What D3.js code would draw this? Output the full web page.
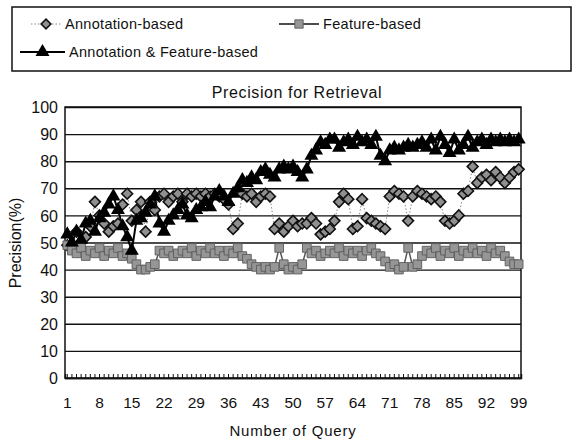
<!DOCTYPE html>
<html><head><meta charset="utf-8">
<script src="https://cdn.jsdelivr.net/npm/d3@7"></script>
<style>
html,body{margin:0;padding:0;background:#fff;}
text{font-family:"Liberation Sans",Arial,Helvetica,sans-serif;fill:#111;}
</style></head>
<body><svg id="c" width="574" height="439"></svg>
<script>
const queries = d3.range(1, 100);
const annotation = [49,48,54,50,52,56,65,60,57,54,56,57,64,68,58,62,65,54,65,62,67,68,65,67,68,65,68,67,68,67,68,67,68,67,66,64,55,57,68,67,68,65,67,68,67,55,57,54,56,58,56,57,57,59,57,53,54,55,58,65,68,66,55,56,66,59,58,57,56,55,67,69,68,67,58,67,69,68,67,66,67,65,58,57,58,60,68,69,78,72,74,75,73,76,74,72,74,76,77];
const feature = [49,47,46,48,45,47,46,48,45,47,46,48,45,46,44,42,40,40,41,42,47,46,47,45,46,47,46,48,45,47,46,48,46,47,45,47,46,48,45,44,42,41,40,41,40,41,48,42,40,41,40,42,48,46,47,45,46,47,46,48,45,47,46,47,45,47,48,46,45,43,41,42,40,41,48,41,42,45,47,46,48,45,47,46,48,45,47,46,48,46,47,45,48,46,47,45,43,42,42];
const combined = [53,50,54,51,57,58,54,59,61,64,67,62,56,52,47,58,59,61,64,67,57,54,58,60,62,64,60,59,62,63,65,63,67,69,67,65,68,70,73,72,74,73,76,77,75,74,77,78,77,78,76,74,77,82,84,87,86,88,88,85,87,88,86,89,87,88,86,89,82,80,84,85,84,85,86,85,86,87,85,88,84,89,86,83,88,84,86,89,85,87,88,86,88,87,88,87,88,87,88];
const yTicks = d3.range(0, 101, 10);
const xLabelEvery = 7;
const seriesNames = ["Annotation-based", "Feature-based", "Annotation & Feature-based"];
const chartTitle = "Precision for Retrieval";
const xTitle = "Number of Query";
const yTitle = "Precision(%)";

const svg = d3.select("#c");
const L = 65, R = 521, T = 107, B = 378;
const x = d3.scaleBand().domain(queries).range([L, R]);
const y = d3.scaleLinear().domain([0, 100]).range([B, T]);
const cx = d => x(d) + x.bandwidth() / 2;

// gridlines
svg.append("g").attr("transform", `translate(${L},0)`)
  .call(d3.axisLeft(y).tickValues(yTicks).tickSize(-(R - L)).tickFormat(""))
  .call(g => g.select(".domain").remove())
  .call(g => g.selectAll("line").attr("stroke", "#111").attr("stroke-width", 1.4));

// plot border
svg.append("rect").attr("x", L).attr("y", T).attr("width", R - L).attr("height", B - T)
  .attr("fill", "none").attr("stroke", "#111").attr("stroke-width", 1.5);

// y axis labels
svg.append("g").attr("transform", `translate(${L},0)`)
  .call(d3.axisLeft(y).tickValues(yTicks).tickSize(0).tickPadding(7))
  .call(g => g.select(".domain").remove())
  .call(g => g.selectAll("text").attr("font-size", 16).attr("dy", "0.35em"));

// x axis
svg.append("g").attr("transform", `translate(0,${B})`)
  .call(d3.axisBottom(x).tickSize(-4).tickPadding(19)
    .tickFormat(d => ((d - 1) % xLabelEvery === 0 ? d : "")))
  .call(g => g.select(".domain").attr("stroke", "#111").attr("stroke-width", 1.5))
  .call(g => g.selectAll("line").attr("stroke", "#111").attr("stroke-width", 1))
  .call(g => g.selectAll("text").attr("font-size", 15.5));

// lines
const line = data => d3.line().x((d, i) => cx(queries[i])).y(d => y(d))(data);
svg.append("path").attr("d", line(annotation)).attr("fill", "none")
  .attr("stroke", "#888").attr("stroke-width", 1).attr("stroke-dasharray", "1.5,2");
svg.append("path").attr("d", line(feature)).attr("fill", "none")
  .attr("stroke", "#555").attr("stroke-width", 1.5);
svg.append("path").attr("d", line(combined)).attr("fill", "none")
  .attr("stroke", "#000").attr("stroke-width", 2);

// markers
const sym = (type, size) => d3.symbol().type(type).size(size)();
svg.append("g").selectAll("path").data(annotation).join("path")
  .attr("transform", (d, i) => `translate(${cx(queries[i])},${y(d)})`)
  .attr("d", sym(d3.symbolDiamond2, 75))
  .attr("fill", "#8f8f8f").attr("stroke", "#111").attr("stroke-width", 1.6);
svg.append("g").selectAll("path").data(feature).join("path")
  .attr("transform", (d, i) => `translate(${cx(queries[i])},${y(d)})`)
  .attr("d", sym(d3.symbolSquare, 75))
  .attr("fill", "#969696").attr("stroke", "#5a5a5a").attr("stroke-width", 0.9);
svg.append("g").selectAll("path").data(combined).join("path")
  .attr("transform", (d, i) => `translate(${cx(queries[i])},${y(d)})`)
  .attr("d", sym(d3.symbolTriangle, 85))
  .attr("fill", "#000");

// titles
svg.append("text").attr("x", 297).attr("y", 98).attr("text-anchor", "middle")
  .attr("font-size", 16).attr("letter-spacing", 0.6).text(chartTitle);
svg.append("text").attr("x", (L + R) / 2).attr("y", 436).attr("text-anchor", "middle")
  .attr("font-size", 15).attr("letter-spacing", 0.8).text(xTitle);
svg.append("text").attr("transform", "translate(21,243) rotate(-90)").attr("text-anchor", "middle")
  .attr("font-size", 16).text(yTitle);

// legend
const lg = svg.append("g");
lg.append("rect").attr("x", 12).attr("y", 7).attr("width", 559).attr("height", 64)
  .attr("fill", "#fff").attr("stroke", "#111").attr("stroke-width", 1.5);
const legendItems = [
  {name: seriesNames[0], x0: 31, x1: 61, ty: 24, dash: "1.5,2", stroke: "#888", sw: 1, m: "diamond"},
  {name: seriesNames[1], x0: 279, x1: 319, ty: 24, dash: null, stroke: "#111", sw: 1.5, m: "square"},
  {name: seriesNames[2], x0: 20, x1: 65, ty: 52, dash: null, stroke: "#000", sw: 2, m: "triangle"}
];
legendItems.forEach(it => {
  lg.append("line").attr("x1", it.x0).attr("x2", it.x1).attr("y1", it.ty).attr("y2", it.ty)
    .attr("stroke", it.stroke).attr("stroke-width", it.sw).attr("stroke-dasharray", it.dash);
  const mx = (it.x0 + it.x1) / 2;
  const p = lg.append("path").attr("transform", `translate(${mx},${it.ty})`);
  if (it.m === "diamond") p.attr("d", sym(d3.symbolDiamond2, 60)).attr("fill", "#8f8f8f").attr("stroke", "#111").attr("stroke-width", 1.6);
  if (it.m === "square") p.attr("d", sym(d3.symbolSquare, 70)).attr("fill", "#969696").attr("stroke", "#5a5a5a").attr("stroke-width", 0.9);
  if (it.m === "triangle") p.attr("d", sym(d3.symbolTriangle, 85)).attr("fill", "#000");
  lg.append("text").attr("x", it.x1 + 4).attr("y", it.ty).attr("dy", "0.35em")
    .attr("font-size", 14.5).attr("letter-spacing", 0.3).text(it.name);
});
</script></body></html>
